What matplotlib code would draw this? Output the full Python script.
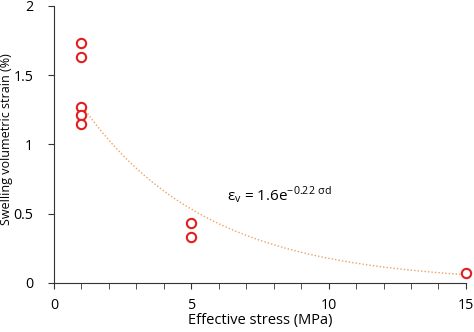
import numpy as np
import matplotlib
matplotlib.use('Agg')
import matplotlib.pyplot as plt
from matplotlib.ticker import MultipleLocator

plt.rcParams['font.family'] = ['Open Sans', 'DejaVu Sans']

# measured swelling strain
stress = [1, 1, 1, 1, 1, 5, 5, 15]
strain = [1.73, 1.63, 1.27, 1.21, 1.15, 0.43, 0.33, 0.07]

# exponential fit eps = a * exp(b * sigma)
fit_a = 1.6
fit_b = -0.22
fit_x = np.linspace(1, 15, 200)

fig = plt.figure(figsize=(4.74, 3.32), dpi=100)
ax = fig.add_axes([0.114, 0.148, 0.869, 0.834])

ax.plot(fit_x, fit_a * np.exp(fit_b * fit_x), linestyle=(0, (1, 1.5)),
        color='#f0a060', linewidth=1.0, zorder=1)
ax.scatter(stress, strain, s=45, facecolors='white', edgecolors='#e0201e',
           linewidths=1.5, zorder=3, clip_on=False)

ax.text(6.3, 0.64, r'$\mathregular{\epsilon_v}$ = 1.6e$^{\mathregular{-0.22\ \sigma d}}$',
        fontsize=11, va='center')

ax.set_xlim(0, 15)
ax.set_ylim(0, 2)
ax.xaxis.set_major_locator(MultipleLocator(5))
ax.xaxis.set_minor_locator(MultipleLocator(1))
ax.set_yticks([0, 0.5, 1, 1.5, 2])
ax.set_yticklabels(['0', '0.5', '1', '1.5', '2'])

for side in ['top', 'right']:
    ax.spines[side].set_visible(False)
for side in ['left', 'bottom']:
    ax.spines[side].set_color('#333333')
ax.tick_params(which='major', length=4, color='#333333', labelsize=10.3)
ax.tick_params(which='minor', length=4, color='#333333')
ax.tick_params(axis='x', pad=7)
ax.tick_params(axis='y', pad=11)

ax.set_xlabel('Effective stress (MPa)', fontsize=10.5, labelpad=0)
ax.set_ylabel('Swelling volumetric strain (%)', fontsize=9)
ax.yaxis.set_label_coords(-0.1, 0.52)

fig.savefig('out.png', dpi=100)
